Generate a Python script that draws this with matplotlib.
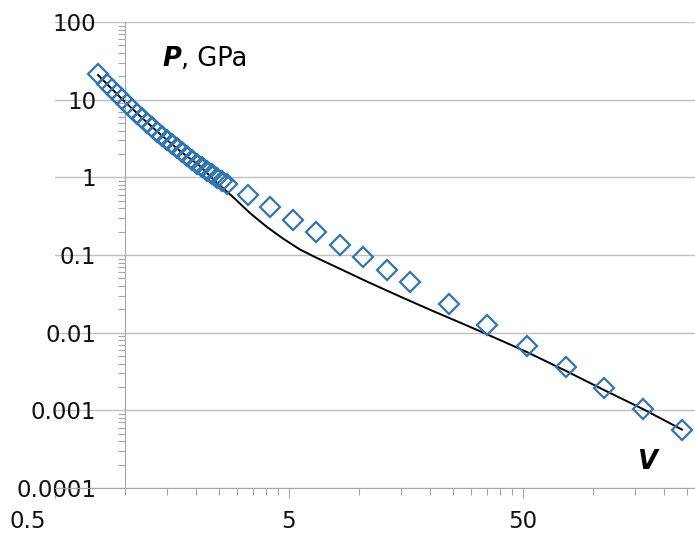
import matplotlib
matplotlib.use("Agg")
import matplotlib.pyplot as plt
import matplotlib.transforms as mtransforms
from matplotlib.ticker import FixedLocator, FixedFormatter, NullFormatter

plt.rcParams["font.family"] = ["DejaVu Sans"]

# measured points (diamonds)
v_pts = [0.7635, 0.834, 0.876, 0.920, 0.967, 1.016, 1.067, 1.121, 1.177, 1.236,
         1.299, 1.364, 1.433, 1.505, 1.581, 1.661, 1.745, 1.833, 1.925, 2.022,
         2.124, 2.231, 2.344, 2.462, 2.586, 2.716,
         3.34, 4.15, 5.20, 6.52, 8.26, 10.36, 13.11, 16.45, 24.15, 35.10,
         52.0, 76.4, 111.0, 162.8, 239.0]
p_pts = [21.38, 16.09, 13.79, 11.85, 10.19, 8.81, 7.62, 6.63, 5.77, 5.03,
         4.40, 3.87, 3.40, 3.00, 2.65, 2.36, 2.09, 1.87, 1.67, 1.50,
         1.345, 1.213, 1.093, 0.991, 0.899, 0.820,
         0.592, 0.415, 0.282, 0.1975, 0.1344, 0.0941, 0.0640, 0.0449, 0.0234, 0.01254,
         0.00673, 0.00361, 0.00194, 0.001039, 0.000565]

# calculated curve
v_line = [0.7635, 0.948, 1.154, 1.405, 1.711, 2.083, 2.414, 2.882, 3.406, 4.027,
          4.713, 5.571, 6.587, 7.709, 9.115, 10.77, 14.91, 20.62, 28.82, 39.87,
          52.0, 76.4, 111.0, 162.8, 239.0]
p_line = [20.76, 10.81, 6.155, 3.610, 2.181, 1.398, 0.896, 0.5577, 0.3470, 0.2291,
          0.1629, 0.1176, 0.0914, 0.0732, 0.0577, 0.0455, 0.0292, 0.0190, 0.01235, 0.00804,
          0.00563, 0.00321, 0.001826, 0.001039, 0.000565]

y_ticks = [100, 10, 1, 0.1, 0.01, 0.001, 0.0001]
y_labels = ["100", "10", "1", "0.1", "0.01", "0.001", "0.0001"]
x_ticks = [0.5, 5, 50]
x_labels = ["0.5", "5", "50"]
x_minor = [1, 1.5, 2, 2.5, 3, 3.5, 4, 4.5,
           10, 15, 20, 25, 30, 35, 40, 45,
           100, 150, 200, 250]

W, H = 695, 544
fig = plt.figure(figsize=(W / 100, H / 100), dpi=100)
ax = fig.add_axes([55 / W, 56 / H, 640 / W, 466 / H])

ax.set_xscale("log")
ax.set_yscale("log")
ax.set_xlim(0.5, 271.7)
ax.set_ylim(0.0001, 100)

axis_col = "#a6a6a6"
grid_col = "#bfbfbf"
blue = "#2e75b6"

ax.plot(v_line, p_line, color="black", lw=1.4, zorder=2)
ax.plot(v_pts, p_pts, ls="none", marker="D", ms=9.8, mfc="none",
        mec=blue, mew=1.6, zorder=3)

# y axis crosses at V = 1
ax.spines["left"].set_position(("data", 1))
ax.spines["left"].set_color(axis_col)
ax.spines["bottom"].set_color(axis_col)
ax.spines["top"].set_visible(False)
ax.spines["right"].set_visible(False)

ax.yaxis.set_major_locator(FixedLocator(y_ticks))
ax.yaxis.set_major_formatter(FixedFormatter(y_labels))
ax.yaxis.set_minor_formatter(NullFormatter())
ax.tick_params(axis="y", which="major", length=0, pad=21, labelsize=16.5, colors="#111111")
ax.tick_params(axis="y", which="minor", length=5, width=0.8, color=axis_col, direction="out")

ax.xaxis.set_major_locator(FixedLocator(x_ticks))
ax.xaxis.set_major_formatter(FixedFormatter(x_labels))
ax.xaxis.set_minor_locator(FixedLocator(x_minor))
ax.xaxis.set_minor_formatter(NullFormatter())
ax.tick_params(axis="x", which="major", length=7, width=0.8, color=axis_col, pad=9,
               labelsize=16.5, labelcolor="#111111")
ax.tick_params(axis="x", which="minor", length=5, width=0.8, color=axis_col)

ax.grid(axis="y", which="major", color=grid_col, lw=1.0)
ax.set_axisbelow(True)

# Excel pushes the first x label to the left
lab = ax.get_xticklabels()[0]
lab.set_transform(lab.get_transform() + mtransforms.ScaledTranslation(-0.27, 0, fig.dpi_scale_trans))

# "P, GPa" with bold italic P
p_txt = fig.text(162 / W, 1 - 66 / H, "P", fontsize=18.5, fontweight="bold",
                 fontstyle="italic", va="baseline")
fig.canvas.draw()
bb = p_txt.get_window_extent()
fig.text(bb.x1 / W, 1 - 66 / H, ", GPa", fontsize=18.5, va="baseline")

fig.text(647 / W, 1 - 469 / H, "V", fontsize=18.5, fontweight="bold",
         fontstyle="italic", va="baseline", ha="center")

fig.savefig("out.png", dpi=100)
